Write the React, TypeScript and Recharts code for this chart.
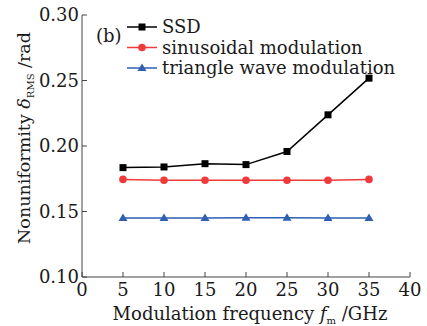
import { LineChart, Line, XAxis, YAxis, Label } from 'recharts';

const freqs = [5, 10, 15, 20, 25, 30, 35];
const ssd = [0.1835, 0.184, 0.1865, 0.1858, 0.1958, 0.2238, 0.2518];
const sinusoidal = [0.1745, 0.1738, 0.1738, 0.1738, 0.1738, 0.1738, 0.1745];
const triangle = [0.145, 0.145, 0.145, 0.1452, 0.1452, 0.145, 0.145];
const xTicks = [0, 5, 10, 15, 20, 25, 30, 35, 40];
const yTicks = [0.1, 0.15, 0.2, 0.25, 0.3];

const data = freqs.map((f, i) => ({ f, ssd: ssd[i], sin: sinusoidal[i], tri: triangle[i] }));

const FONT = 'DejaVu Serif';
const AXIS = '#444';
const TEXT = '#1a1a1a';
const BLACK = '#000000';
const RED = '#f03a3a';
const BLUE = '#2f5fb3';

const Square = ({ cx, cy, fill }: any) => (
  <rect x={cx - 3.5} y={cy - 3.5} width={7} height={7} fill={fill} />
);
const Circle = ({ cx, cy, fill }: any) => <circle cx={cx} cy={cy} r={3.8} fill={fill} />;
const Tri = ({ cx, cy, fill }: any) => (
  <path d={`M${cx},${cy - 4.5}L${cx + 4.5},${cy + 3}L${cx - 4.5},${cy + 3}Z`} fill={fill} />
);

const series = [
  { key: 'ssd', name: 'SSD', color: BLACK, Marker: Square },
  { key: 'sin', name: 'sinusoidal modulation', color: RED, Marker: Circle },
  { key: 'tri', name: 'triangle wave modulation', color: BLUE, Marker: Tri },
];

const yTitle = () => (
  <text
    transform="translate(30,138) rotate(-90)"
    textAnchor="middle"
    fontFamily={FONT}
    fontSize={17.5}
    fill={TEXT}
  >
    Nonuniformity <tspan fontStyle="italic">δ</tspan>
    <tspan dy={4} fontSize={10}>RMS</tspan>
    <tspan dy={-4}> /rad</tspan>
  </text>
);

const xTitle = () => (
  <text x={250} y={320} textAnchor="middle" fontFamily={FONT} fontSize={18} fill={TEXT}>
    Modulation frequency <tspan fontStyle="italic">f</tspan>
    <tspan dy={4} fontSize={10}>m</tspan>
    <tspan dy={-4}> /GHz</tspan>
  </text>
);

export default function App() {
  return (
    <div style={{ position: 'absolute', left: 0, top: 0, width: 427, height: 326, background: '#fff' }}>
      <LineChart width={427} height={326} data={data} margin={{ top: 15, right: 17, bottom: 0, left: 0 }}>
        <XAxis
          dataKey="f"
          type="number"
          domain={[0, 40]}
          ticks={xTicks}
          interval={0}
          height={49}
          stroke={AXIS}
          tickSize={-5}
          tickMargin={11}
          tick={{ fontFamily: FONT, fontSize: 18, fill: TEXT }}
        >
          <Label content={xTitle} />
        </XAxis>
        <XAxis xAxisId="top" orientation="top" type="number" domain={[0, 40]} height={0} tick={false} tickLine={false} stroke={AXIS} />
        <YAxis
          type="number"
          domain={[0.1, 0.3]}
          ticks={yTicks}
          interval={0}
          width={82}
          stroke={AXIS}
          tickSize={-5}
          tickMargin={8}
          tickFormatter={(v: number) => v.toFixed(2)}
          tick={{ fontFamily: FONT, fontSize: 18, fill: TEXT }}
        >
          <Label content={yTitle} />
        </YAxis>
        <YAxis yAxisId="right" orientation="right" type="number" domain={[0.1, 0.3]} width={0} tick={false} tickLine={false} stroke={AXIS} />
        {series.map(({ key, color, Marker }) => (
          <Line
            key={key}
            dataKey={key}
            stroke={color}
            strokeWidth={1.5}
            isAnimationActive={false}
            dot={(p: any) => <Marker key={`${key}-${p.index}`} cx={p.cx} cy={p.cy} fill={color} />}
            activeDot={false}
          />
        ))}
      </LineChart>
      <svg width={427} height={326} style={{ position: 'absolute', left: 0, top: 0, pointerEvents: 'none' }}>
        <text x={96} y={42} fontFamily={FONT} fontSize={18} fill={TEXT}>(b)</text>
        {series.map(({ key, name, color, Marker }, i) => {
          const y = 27 + i * 20.5;
          return (
            <g key={key}>
              <line x1={127} x2={157} y1={y} y2={y} stroke={color} strokeWidth={1.5} />
              <Marker cx={142} cy={y} fill={color} />
              <text x={162} y={y + 6} fontFamily={FONT} fontSize={18} fill={TEXT}>{name}</text>
            </g>
          );
        })}
      </svg>
    </div>
  );
}
